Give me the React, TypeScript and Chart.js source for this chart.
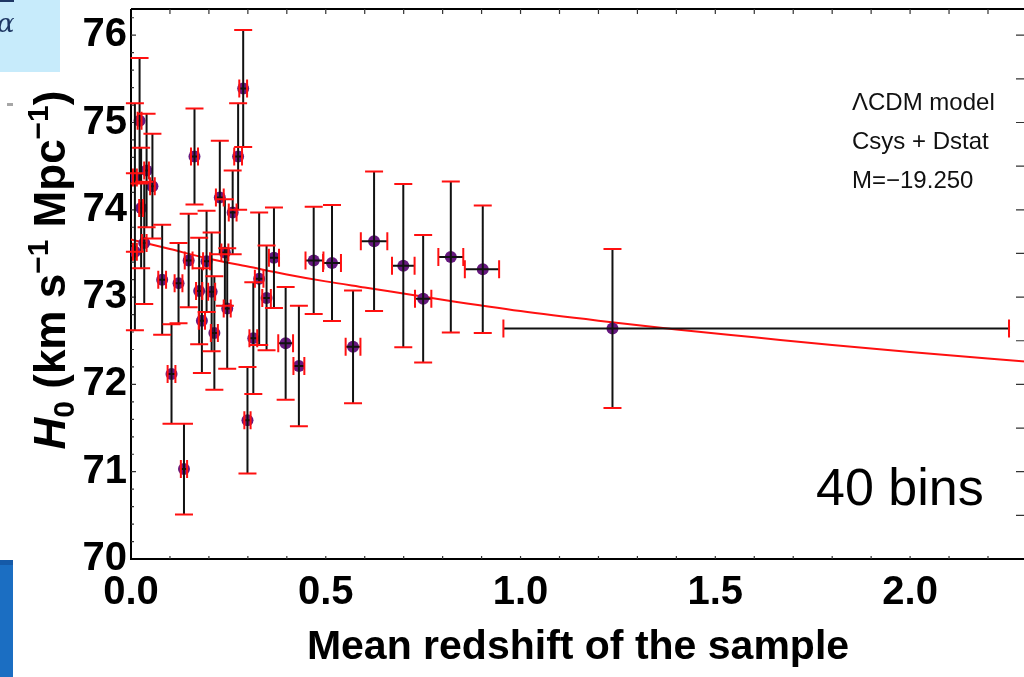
import React, { useEffect, useRef } from "react";
import { Chart, registerables } from "chart.js";

Chart.register(...registerables);

// ---- data ----
const zMean = [
  0.010, 0.022, 0.040, 0.055, 0.026, 0.010, 0.034, 0.080, 0.104, 0.122,
  0.136, 0.148, 0.163, 0.175, 0.182, 0.194, 0.207, 0.214, 0.228, 0.241,
  0.247, 0.261, 0.275, 0.288, 0.299, 0.314, 0.329, 0.348, 0.367, 0.397,
  0.431, 0.469, 0.516, 0.570, 0.624, 0.699, 0.750, 0.821, 0.903, 1.236,
];
const h0 = [
  74.37, 75.02, 74.45, 74.27, 74.02, 73.52, 73.62, 73.20, 72.12, 73.16,
  71.03, 73.42, 74.61, 73.07, 72.73, 73.41, 73.06, 72.59, 74.14, 73.51,
  72.87, 73.97, 74.61, 75.39, 71.59, 72.53, 73.21, 72.99, 73.45, 72.47,
  72.21, 73.42, 73.39, 72.43, 73.64, 73.36, 72.98, 73.46, 73.32, 72.64,
];
const h0Err = [
  0.85, 0.72, 0.65, 0.60, 0.69, 0.90, 0.70, 0.63, 0.57, 0.46,
  0.52, 0.535, 0.55, 0.61, 0.60, 0.58, 0.68, 0.65, 0.65, 0.61,
  0.69, 0.48, 0.61, 0.67, 0.61, 0.64, 0.76, 0.60, 0.575, 0.645,
  0.69, 0.615, 0.665, 0.645, 0.80, 0.935, 0.73, 0.865, 0.73, 0.91,
];
const zErrLow = [
  0.005, 0.005, 0.006, 0.006, 0.005, 0.005, 0.006, 0.010, 0.010, 0.010,
  0.008, 0.010, 0.009, 0.008, 0.008, 0.009, 0.009, 0.009, 0.010, 0.009,
  0.009, 0.010, 0.010, 0.010, 0.008, 0.010, 0.011, 0.011, 0.013, 0.019,
  0.014, 0.021, 0.023, 0.019, 0.034, 0.029, 0.021, 0.032, 0.046, 0.280,
];
const zErrHigh = [
  0.005, 0.005, 0.006, 0.006, 0.005, 0.005, 0.006, 0.010, 0.010, 0.010,
  0.008, 0.010, 0.009, 0.008, 0.008, 0.009, 0.009, 0.009, 0.010, 0.009,
  0.009, 0.010, 0.010, 0.010, 0.008, 0.010, 0.011, 0.011, 0.013, 0.019,
  0.014, 0.025, 0.023, 0.019, 0.034, 0.029, 0.021, 0.032, 0.042, 1.018,
];
const fitZ = [0, 0.1, 0.2, 0.3, 0.4, 0.5, 0.6, 0.8, 1.0, 1.2, 1.4, 1.6, 1.8, 2.0, 2.3];
const fitH0 = [73.66, 73.55, 73.44, 73.35, 73.26, 73.18, 73.11, 72.97, 72.84, 72.73, 72.63, 72.54, 72.45, 72.37, 72.26];

const xMajorTicks = [0, 0.5, 1.0, 1.5, 2.0];
const xTickLabels = ["0.0", "0.5", "1.0", "1.5", "2.0"];
const yMajorTicks = [70, 71, 72, 73, 74, 75, 76];
const yTickLabels = ["70", "71", "72", "73", "74", "75", "76"];
const xMinorStep = 0.1;
const yMinorStep = 0.2;
const yRightStep = 0.5;

const annotationLines = ["\u039BCDM model", "Csys + Dstat", "M=\u221219.250"];
const binsLabel = "40 bins";
const xTitle = "Mean redshift of the sample";

const FONT = "'Liberation Sans', Arial, Helvetica, sans-serif";
const POINT_COLOR = "#66187f";
const RED = "#ff1010";

const decorPlugin = {
  id: "decor",
  beforeDatasetsDraw(chart: any) {
    const { ctx, chartArea: a, scales } = chart;
    const xs = scales.x;
    const ys = scales.y;
    ctx.save();
    ctx.strokeStyle = "#000";
    ctx.lineWidth = 2;
    ctx.beginPath();
    ctx.moveTo(a.left, a.top);
    ctx.lineTo(a.left, a.bottom);
    ctx.lineTo(a.right, a.bottom);
    ctx.moveTo(a.left, a.top);
    ctx.lineTo(a.right, a.top);
    ctx.stroke();
    ctx.lineWidth = 1.2;
    ctx.strokeStyle = "#333";
    ctx.beginPath();
    const nx = Math.round((xs.max - xs.min) / xMinorStep);
    for (let i = 1; i <= nx; i++) {
      const px = xs.getPixelForValue(xs.min + i * xMinorStep);
      ctx.moveTo(px, a.top);
      ctx.lineTo(px, a.top + 5);
      ctx.moveTo(px, a.bottom);
      ctx.lineTo(px, a.bottom - 3);
    }
    const ny = Math.round((ys.max - ys.min) / yMinorStep);
    for (let i = 1; i <= ny; i++) {
      const v = ys.min + i * yMinorStep;
      const py = ys.getPixelForValue(v);
      const major = Math.abs(v - Math.round(v)) < 1e-6;
      ctx.moveTo(a.left, py);
      ctx.lineTo(a.left + (major ? 5 : 3), py);
    }
    const nr = Math.round((ys.max - ys.min) / yRightStep);
    for (let i = 1; i <= nr; i++) {
      const py = ys.getPixelForValue(ys.min + i * yRightStep);
      ctx.moveTo(a.right - 9, py);
      ctx.lineTo(a.right, py);
    }
    ctx.stroke();
    ctx.restore();
  },
  afterDatasetsDraw(chart: any) {
    const { ctx, scales } = chart;
    const xs = scales.x;
    const ys = scales.y;
    ctx.save();
    ctx.strokeStyle = "#111";
    ctx.lineWidth = 2;
    ctx.beginPath();
    for (let i = 0; i < zMean.length; i++) {
      const px = xs.getPixelForValue(zMean[i]);
      const py = ys.getPixelForValue(h0[i]);
      const yt = ys.getPixelForValue(h0[i] + h0Err[i]);
      const yb = ys.getPixelForValue(h0[i] - h0Err[i]);
      const xl = xs.getPixelForValue(zMean[i] - zErrLow[i]);
      const xr = xs.getPixelForValue(zMean[i] + zErrHigh[i]);
      ctx.moveTo(px, yt);
      ctx.lineTo(px, yb);
      ctx.moveTo(xl, py);
      ctx.lineTo(xr, py);
    }
    ctx.stroke();
    ctx.strokeStyle = RED;
    ctx.lineWidth = 2;
    ctx.beginPath();
    for (let i = 0; i < zMean.length; i++) {
      const px = xs.getPixelForValue(zMean[i]);
      const py = ys.getPixelForValue(h0[i]);
      const yt = ys.getPixelForValue(h0[i] + h0Err[i]);
      const yb = ys.getPixelForValue(h0[i] - h0Err[i]);
      const xl = xs.getPixelForValue(zMean[i] - zErrLow[i]);
      const xr = xs.getPixelForValue(zMean[i] + zErrHigh[i]);
      ctx.moveTo(px - 9, yt);
      ctx.lineTo(px + 9, yt);
      ctx.moveTo(px - 9, yb);
      ctx.lineTo(px + 9, yb);
      ctx.moveTo(xl, py - 9);
      ctx.lineTo(xl, py + 9);
      ctx.moveTo(xr, py - 9);
      ctx.lineTo(xr, py + 9);
    }
    ctx.stroke();
    ctx.restore();
  },
  afterDraw(chart: any) {
    const { ctx } = chart;
    ctx.save();
    ctx.fillStyle = "#111";
    ctx.textBaseline = "alphabetic";
    ctx.textAlign = "left";
    ctx.font = `24px ${FONT}`;
    const baselines = [110, 149, 188];
    annotationLines.forEach((t, i) => ctx.fillText(t, 852, baselines[i]));
    ctx.fillStyle = "#000";
    ctx.font = `52px ${FONT}`;
    ctx.fillText(binsLabel, 816, 505);

    const big = 44;
    const small = 30;
    const pieces = [
      { t: "H", f: `italic bold ${big}px ${FONT}`, dy: 0 },
      { t: "0", f: `bold ${small}px ${FONT}`, dy: 9 },
      { t: " (km s", f: `bold ${big}px ${FONT}`, dy: 0 },
      { t: "\u22121", f: `bold ${small}px ${FONT}`, dy: -17 },
      { t: " Mpc", f: `bold ${big}px ${FONT}`, dy: 0 },
      { t: "\u22121", f: `bold ${small}px ${FONT}`, dy: -17 },
      { t: ")", f: `bold ${big}px ${FONT}`, dy: 0 },
    ];
    let total = 0;
    const widths = pieces.map((p) => {
      ctx.font = p.f;
      const w = ctx.measureText(p.t).width;
      total += w;
      return w;
    });
    ctx.translate(65, 270);
    ctx.rotate(-Math.PI / 2);
    let x = -total / 2;
    pieces.forEach((p, i) => {
      ctx.font = p.f;
      ctx.fillText(p.t, x, p.dy);
      x += widths[i];
    });
    ctx.restore();
  },
};

export default function App() {
  const ref = useRef<HTMLCanvasElement | null>(null);
  useEffect(() => {
    if (!ref.current) return;
    const chart = new Chart(ref.current, {
      type: "scatter",
      data: {
        datasets: [
          {
            type: "line",
            data: fitZ.map((z, i) => ({ x: z, y: fitH0[i] })),
            borderColor: RED,
            borderWidth: 2,
            pointRadius: 0,
            cubicInterpolationMode: "monotone",
            fill: false,
            order: 2,
          } as any,
          {
            type: "scatter",
            data: zMean.map((z, i) => ({ x: z, y: h0[i] })),
            backgroundColor: POINT_COLOR,
            borderWidth: 0,
            pointRadius: 6,
            order: 1,
          } as any,
        ],
      },
      options: {
        animation: false,
        responsive: false,
        maintainAspectRatio: false,
        devicePixelRatio: 1,
        layout: { padding: { top: 9, right: 7, left: 0, bottom: 0 } },
        plugins: { legend: { display: false }, tooltip: { enabled: false } },
        scales: {
          x: {
            type: "linear",
            min: 0,
            max: 2.295,
            grid: { display: false, drawTicks: false },
            border: { display: false },
            afterFit: (s: any) => {
              s.height = 118;
              s.paddingLeft = 0;
              s.paddingRight = 0;
            },
            afterBuildTicks: (s: any) => {
              s.ticks = xMajorTicks.map((v) => ({ value: v }));
            },
            ticks: {
              autoSkip: false,
              maxRotation: 0,
              padding: 10,
              color: "#000",
              font: { family: FONT, size: 40, weight: "bold" },
              callback: (_v: any, i: number) => xTickLabels[i],
            },
            title: {
              display: true,
              text: xTitle,
              color: "#000",
              font: { family: FONT, size: 41, weight: "bold" },
              padding: { top: 0, bottom: 5 },
            },
          } as any,
          y: {
            type: "linear",
            min: 70,
            max: 76.3,
            grid: { display: false, drawTicks: false },
            border: { display: false },
            afterFit: (s: any) => {
              s.width = 131;
              s.paddingTop = 0;
              s.paddingBottom = 0;
            },
            afterBuildTicks: (s: any) => {
              s.ticks = yMajorTicks.map((v) => ({ value: v }));
            },
            ticks: {
              autoSkip: false,
              padding: 4,
              color: "#000",
              font: { family: FONT, size: 40, weight: "bold" },
              callback: (_v: any, i: number) => yTickLabels[i],
            },
          } as any,
        },
      },
      plugins: [decorPlugin],
    });
    return () => chart.destroy();
  }, []);

  return (
    <div style={{ position: "absolute", left: 0, top: 0, width: 1024, height: 677, overflow: "hidden", background: "#fff" }}>
      <div style={{ position: "absolute", left: 0, top: 0, width: 1032, height: 677 }}>
        <canvas ref={ref} width={1032} height={677} style={{ width: 1032, height: 677, display: "block" }} />
      </div>
      <div style={{ position: "absolute", left: 0, top: 0, width: 60, height: 72, background: "#c7ebfb" }} />
      <div style={{ position: "absolute", left: 0, top: 0, width: 14, height: 2, background: "#1f3864" }} />
      <div style={{ position: "absolute", left: -3, top: 8, fontFamily: "'DejaVu Serif', serif", fontStyle: "italic", fontSize: 26, color: "#1f3864", lineHeight: "30px" }}>α</div>
      <div style={{ position: "absolute", left: 7, top: 103, width: 6, height: 3, background: "#a6a6a6" }} />
      <div style={{ position: "absolute", left: 0, top: 560, width: 13, height: 117, background: "#1b6ec2" }} />
      <div style={{ position: "absolute", left: 0, top: 560, width: 13, height: 5, background: "#155aa8" }} />
    </div>
  );
}
